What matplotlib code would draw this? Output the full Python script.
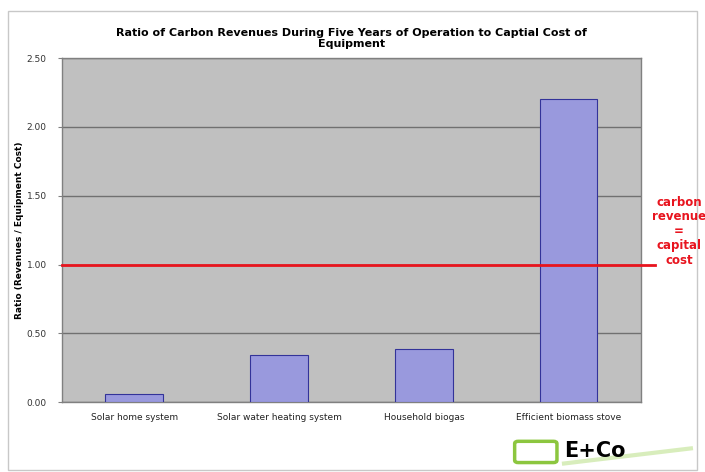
import matplotlib.pyplot as plt
from matplotlib.patches import FancyBboxPatch, Rectangle

categories = ["Solar home system", "Solar water heating system", "Household biogas", "Efficient biomass stove"]
ratios = [0.06, 0.34, 0.385, 2.20]
threshold = 1.0
y_ticks = [0.0, 0.5, 1.0, 1.5, 2.0, 2.5]

fig = plt.figure(figsize=(7.05, 4.72), dpi=100)
fig.patch.set_facecolor("white")

# outer chart frame
fig.add_artist(Rectangle((0.011, 0.004), 0.978, 0.972, transform=fig.transFigure,
                         fill=False, edgecolor="#c8c8c8", linewidth=1.0))

ax = fig.add_axes([0.088, 0.148, 0.821, 0.729])
ax.set_facecolor("#c0c0c0")
x = range(len(categories))
ax.bar(x, ratios, width=0.4, color="#9999dd", edgecolor="#333399", linewidth=0.8, zorder=3)
ax.set_xlim(-0.5, len(categories) - 0.5)
ax.set_ylim(0, 2.5)
ax.set_yticks(y_ticks)
ax.set_yticklabels([f"{v:.2f}" for v in y_ticks], fontsize=6.5, color="#333333")
ax.set_xticks(list(x))
ax.set_xticklabels(categories, fontsize=6.5, color="#222222")
ax.tick_params(axis="x", length=0, pad=8)
ax.tick_params(axis="y", length=3, pad=8, color="#808080")
ax.yaxis.grid(True, color="#707070", linewidth=1.0, zorder=1)
ax.set_axisbelow(True)
for s in ax.spines.values():
    s.set_color("#808080")
    s.set_linewidth(1.0)

ax.set_ylabel("Ratio (Revenues / Equipment Cost)", fontsize=6.5, fontweight="bold", labelpad=2)

ax.set_title("Ratio of Carbon Revenues During Five Years of Operation to Captial Cost of\nEquipment",
             fontsize=8, fontweight="bold", pad=8, linespacing=1.1)

# red break-even line, extends past the plot area
ax.plot([-0.5, 3.6], [threshold, threshold], color="#e8141e", linewidth=2, zorder=4, clip_on=False)
fig.text(0.963, 0.51, "carbon\nrevenue\n=\ncapital\ncost", color="#e8141e", fontsize=8.5,
         fontweight="bold", ha="center", va="center", linespacing=1.15)

# E+Co logo
fig.add_artist(FancyBboxPatch((0.735, 0.025), 0.05, 0.035, boxstyle="round,pad=0.005",
                              transform=fig.transFigure, fill=False, edgecolor="#8cc63f", linewidth=2.5))
fig.text(0.8, 0.045, "E+Co", fontsize=15, fontweight="bold", color="black", ha="left", va="center")
fig.add_artist(plt.Line2D([0.8, 0.98], [0.018, 0.05], transform=fig.transFigure,
                          color="#c8e6a0", linewidth=3, alpha=0.7))

fig.savefig("out.png", dpi=100)
